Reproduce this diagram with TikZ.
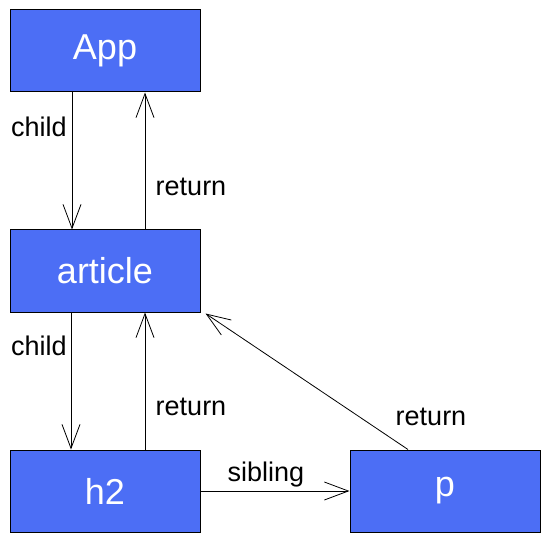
\documentclass[tikz,border=0pt]{standalone}
\usepackage{fontspec}
\setmainfont{Liberation Sans}
\usepackage{tikz}
\usetikzlibrary{positioning}
\usetikzlibrary{arrows.meta, calc}
\definecolor{boxblue}{HTML}{4C6EF5}
\tikzstyle{arrow} = [line width=0.8pt,-{Straight Barb[length=24pt,width=18pt,line width=0.8pt]}]
\tikzstyle{fiber} = [draw = black, fill = boxblue, line width=1pt, minimum width = 190pt, minimum height = 82pt, text = white, font = \fontsize{36}{42}\selectfont]

\begin{document}
\begin{tikzpicture}[
    			x = 1pt, y = -1pt,
    			every node/.style = {inner sep = 0pt},
    			lbl/.style = {font = \fontsize{27}{32}\selectfont}
  			]
  				\useasboundingbox (0,0) rectangle (550,543);
  				\node[fiber] (App) at (105,51) {App};
  				\node[fiber] (article) at (105,271) {article};
  				\node[fiber] (h2) at (105,491) {h2};
  				\node[fiber] (p) at (445,491) {p};

  				% Arrows
  				\draw[arrow] ([xshift=-33pt]App.south) -- ([xshift=-33pt]article.north);
  				\draw[arrow] ([xshift=40pt]article.north) -- ([xshift=40pt]App.south);
  				\draw[arrow] ([xshift=-34pt]article.south) -- ([xshift=-34pt]h2.north);
  				\draw[arrow] ([xshift=40pt]h2.north) -- ([xshift=40pt]article.south);
  				\draw[arrow] (h2.east) -- (p.west);
  				\draw[arrow] ([xshift=-37pt]p.north) -- ([xshift=5pt,yshift=-1pt]article.south east);

  				% Labels
  				\begin{scope}[nodes = {lbl}]
    				\node (child1) at (39,127) {child};
    				\node (return1) at (191,187) {return};
    				\node (child2) at (39,346) {child};
    				\node (return2) at (191,407) {return};
    				\node (sibling) at (266,475) {sibling};
    				\node (return3) at (431,417) {return};
  				\end{scope}
			\end{tikzpicture}
\end{document}
